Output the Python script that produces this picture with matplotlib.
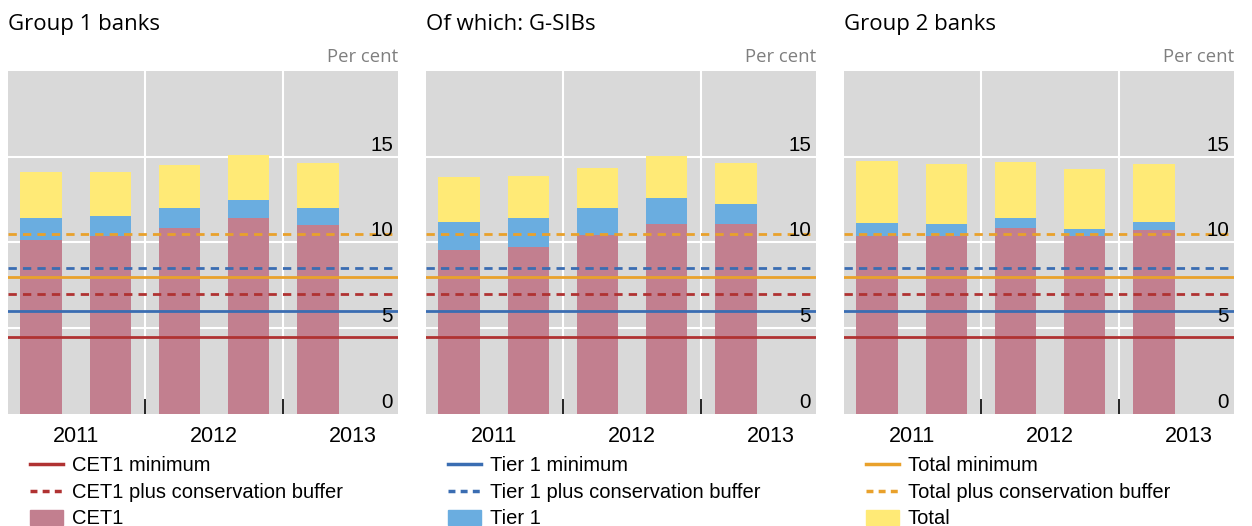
import matplotlib.pyplot as plt
import matplotlib.transforms as mtransforms
from matplotlib.lines import Line2D
from matplotlib.patches import Patch

# data
titles = ["Group 1 banks", "Of which: G-SIBs", "Group 2 banks"]
years = ["2011", "2012", "2013"]
year_pos = [0.5, 2.5, 4.5]
periods = [0, 1, 2, 3, 4]

cet1 = [
    [10.15, 10.35, 10.85, 11.4, 11.0],
    [9.55, 9.75, 10.45, 11.1, 11.05],
    [10.35, 10.4, 10.85, 10.35, 10.75],
]
tier1 = [
    [11.45, 11.55, 12.0, 12.5, 12.0],
    [11.2, 11.4, 12.0, 12.6, 12.25],
    [11.15, 11.05, 11.4, 10.8, 11.2],
]
total = [
    [14.1, 14.1, 14.5, 15.1, 14.65],
    [13.8, 13.9, 14.35, 15.05, 14.65],
    [14.75, 14.55, 14.7, 14.3, 14.55],
]

# regulatory minimums (per cent)
cet1_min, cet1_buf = 4.5, 7.0
tier1_min, tier1_buf = 6.0, 8.5
total_min, total_buf = 8.0, 10.5

yticks = [0, 5, 10, 15]

c_cet1 = "#c27f8f"
c_tier1 = "#6aade0"
c_total = "#ffea76"
c_red = "#b03232"
c_blue = "#3a6db2"
c_orange = "#e9a12b"
bg = "#d9d9d9"

legends = [
    [("CET1 minimum", c_red, "-"), ("CET1 plus conservation buffer", c_red, "--"), ("CET1", c_cet1, None)],
    [("Tier 1 minimum", c_blue, "-"), ("Tier 1 plus conservation buffer", c_blue, "--"), ("Tier 1", c_tier1, None)],
    [("Total minimum", c_orange, "-"), ("Total plus conservation buffer", c_orange, "--"), ("Total", c_total, None)],
]

title_font = ["Open Sans", "DejaVu Sans"]
body_font = ["Liberation Sans", "DejaVu Sans"]

fig = plt.figure(figsize=(12.52, 5.26), dpi=100)
lefts = [8, 426, 844]
W, H = 1252, 526

for i in range(3):
    ax = fig.add_axes([lefts[i] / W, 1 - 414 / H, 390 / W, 343 / H])
    ax.set_facecolor(bg)
    for s in ax.spines.values():
        s.set_visible(False)

    # stacked bars: CET1 at bottom, Tier 1 increment, Total increment
    t1_inc = [t - c for t, c in zip(tier1[i], cet1[i])]
    tot_inc = [t - c for t, c in zip(total[i], tier1[i])]
    ax.bar(periods, cet1[i], width=0.6, color=c_cet1, zorder=2)
    ax.bar(periods, t1_inc, bottom=cet1[i], width=0.6, color=c_tier1, zorder=2)
    ax.bar(periods, tot_inc, bottom=tier1[i], width=0.6, color=c_total, zorder=2)

    lw = 2.0
    dash = (0, (3.0, 2.2))
    ax.axhline(cet1_min, color=c_red, lw=lw, zorder=3)
    ax.axhline(cet1_buf, color=c_red, lw=lw, ls=dash, zorder=3)
    ax.axhline(tier1_min, color=c_blue, lw=lw, zorder=3)
    ax.axhline(tier1_buf, color=c_blue, lw=lw, ls=dash, zorder=3)
    ax.axhline(total_min, color=c_orange, lw=lw, zorder=3)
    ax.axhline(total_buf, color=c_orange, lw=lw, ls=dash, zorder=3)

    ax.set_xlim(-0.48, 5.16)
    ax.set_ylim(0, 20)

    # white grid
    for y in [5, 10, 15]:
        ax.axhline(y, color="white", lw=1.5, zorder=1)
    for x in [1.5, 3.5]:
        ax.axvline(x, color="white", lw=1.5, zorder=1)

    ax.set_xticks([1.5, 3.5])
    ax.set_xticklabels([])
    ax.tick_params(axis="x", direction="in", length=10.5, width=1.2, color="black")
    ax.set_yticks([])

    for yr, xp in zip(years, year_pos):
        ax.text(xp, -0.035, yr, transform=ax.get_xaxis_transform(), ha="center", va="top",
                fontsize=15.5, family=body_font)

    offs = mtransforms.offset_copy(ax.get_yaxis_transform(), fig=fig, x=-5, y=2, units="dots")
    for yt in yticks:
        ax.text(1.0, yt, str(yt), transform=offs, ha="right", va="bottom",
                fontsize=14.8, family=body_font, zorder=5)

    ax.text(0, 1.137, titles[i], transform=ax.transAxes, ha="left", va="center",
            fontsize=16, family=title_font)
    ax.text(1.0, 1.04, "Per cent", transform=ax.transAxes, ha="right", va="center",
            fontsize=13.3, color="#7f7f7f", family=title_font)

    handles = []
    for lab, col, ls in legends[i]:
        if ls is None:
            handles.append(Patch(color=col, label=lab))
        else:
            handles.append(Line2D([], [], color=col, lw=2.5,
                                  ls=("-" if ls == "-" else (0, (2, 1.5))), label=lab))
    leg = ax.legend(handles=handles, loc="upper left", bbox_to_anchor=(0.056, -0.123),
                    frameon=False, prop={"family": body_font, "size": 14.5},
                    handlelength=1.64, handleheight=0.75, handletextpad=0.45,
                    labelspacing=0.38, borderaxespad=0, borderpad=0)

fig.savefig("out.png", dpi=100)
